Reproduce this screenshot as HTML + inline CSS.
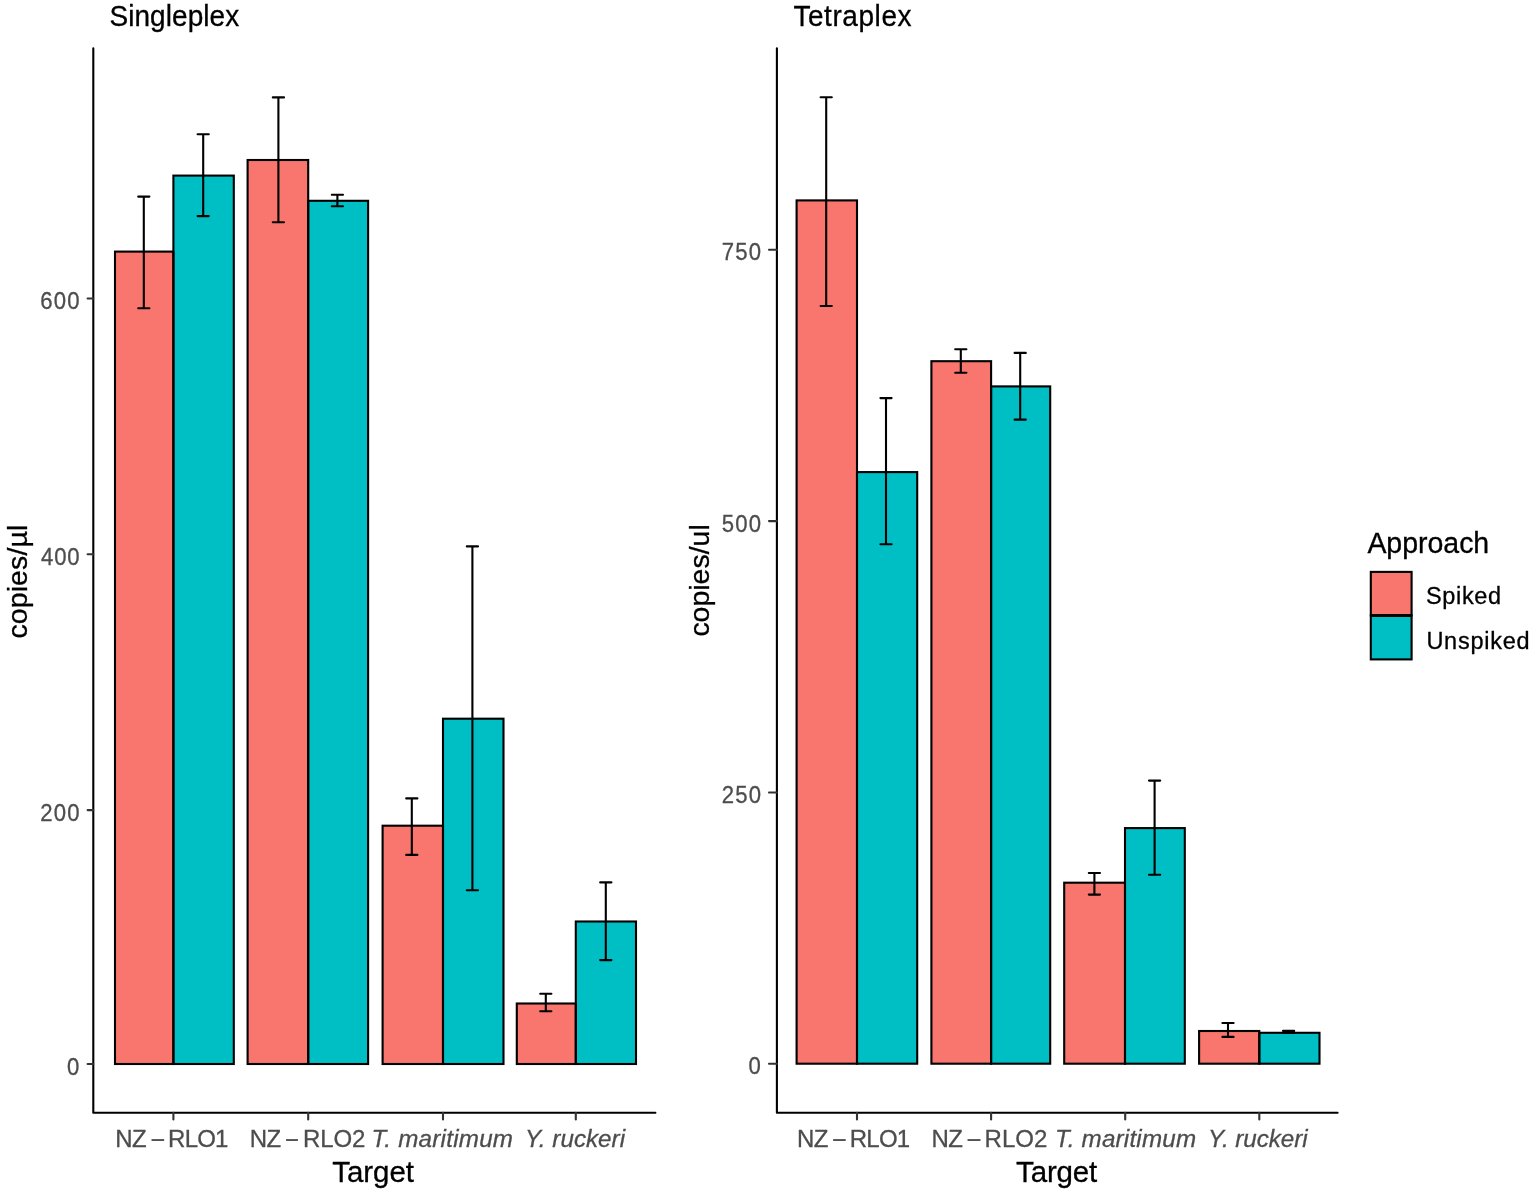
<!DOCTYPE html>
<html><head><meta charset="utf-8"><title>Singleplex vs Tetraplex</title>
<style>
html,body{margin:0;padding:0;background:#fff;}
body{width:1535px;height:1194px;overflow:hidden;}
svg{display:block;}
text{font-family:"Liberation Sans",Arial,sans-serif;stroke-width:0.3px;}
</style></head>
<body>
<svg width="1535" height="1194" viewBox="0 0 1535 1194">
<rect width="1535" height="1194" fill="#fff"/>
<rect x="115.0" y="251.6" width="58.4" height="812.4" fill="#F8766D"/>
<rect x="173.4" y="175.6" width="60.4" height="888.4" fill="#00BFC4"/>
<rect x="247.6" y="160.0" width="60.6" height="904.0" fill="#F8766D"/>
<rect x="308.2" y="200.8" width="59.9" height="863.2" fill="#00BFC4"/>
<rect x="382.6" y="825.7" width="60.4" height="238.3" fill="#F8766D"/>
<rect x="443.0" y="718.7" width="60.5" height="345.3" fill="#00BFC4"/>
<rect x="516.8" y="1003.5" width="59.0" height="60.5" fill="#F8766D"/>
<rect x="575.8" y="921.5" width="60.2" height="142.5" fill="#00BFC4"/>
<rect x="115.0" y="251.6" width="58.4" height="812.4" fill="none" stroke="#000" stroke-width="2.1"/>
<rect x="173.4" y="175.6" width="60.4" height="888.4" fill="none" stroke="#000" stroke-width="2.1"/>
<rect x="247.6" y="160.0" width="60.6" height="904.0" fill="none" stroke="#000" stroke-width="2.1"/>
<rect x="308.2" y="200.8" width="59.9" height="863.2" fill="none" stroke="#000" stroke-width="2.1"/>
<rect x="382.6" y="825.7" width="60.4" height="238.3" fill="none" stroke="#000" stroke-width="2.1"/>
<rect x="443.0" y="718.7" width="60.5" height="345.3" fill="none" stroke="#000" stroke-width="2.1"/>
<rect x="516.8" y="1003.5" width="59.0" height="60.5" fill="none" stroke="#000" stroke-width="2.1"/>
<rect x="575.8" y="921.5" width="60.2" height="142.5" fill="none" stroke="#000" stroke-width="2.1"/>
<path d="M138.2 196.6H149.4M143.8 196.6V308.3M138.2 308.3H149.4" stroke="#000" stroke-width="2.1" fill="none" stroke-linecap="round"/>
<path d="M197.6 134.2H208.8M203.2 134.2V216.1M197.6 216.1H208.8" stroke="#000" stroke-width="2.1" fill="none" stroke-linecap="round"/>
<path d="M272.8 97.4H284.0M278.4 97.4V222.2M272.8 222.2H284.0" stroke="#000" stroke-width="2.1" fill="none" stroke-linecap="round"/>
<path d="M331.8 194.8H343.0M337.4 194.8V206.3M331.8 206.3H343.0" stroke="#000" stroke-width="2.1" fill="none" stroke-linecap="round"/>
<path d="M406.2 798.4H417.4M411.8 798.4V854.9M406.2 854.9H417.4" stroke="#000" stroke-width="2.1" fill="none" stroke-linecap="round"/>
<path d="M466.8 546.4H478.0M472.4 546.4V890.3M466.8 890.3H478.0" stroke="#000" stroke-width="2.1" fill="none" stroke-linecap="round"/>
<path d="M540.2 993.7H551.4M545.8 993.7V1011.3M540.2 1011.3H551.4" stroke="#000" stroke-width="2.1" fill="none" stroke-linecap="round"/>
<path d="M600.2 882.4H611.4M605.8 882.4V960.1M600.2 960.1H611.4" stroke="#000" stroke-width="2.1" fill="none" stroke-linecap="round"/>
<path d="M93.3 48.4V1112.8H655.4" stroke="#000" stroke-width="2.1" fill="none" stroke-linecap="round" stroke-linejoin="round"/>
<path d="M87.6 1064.0H93.3" stroke="#333" stroke-width="2.1" stroke-linecap="round"/>
<path d="M87.6 810.1H93.3" stroke="#333" stroke-width="2.1" stroke-linecap="round"/>
<path d="M87.6 554.3H93.3" stroke="#333" stroke-width="2.1" stroke-linecap="round"/>
<path d="M87.6 298.5H93.3" stroke="#333" stroke-width="2.1" stroke-linecap="round"/>
<path d="M173.4 1112.8V1119.4" stroke="#333" stroke-width="2.1" stroke-linecap="round"/>
<path d="M308.2 1112.8V1119.4" stroke="#333" stroke-width="2.1" stroke-linecap="round"/>
<path d="M443.0 1112.8V1119.4" stroke="#333" stroke-width="2.1" stroke-linecap="round"/>
<path d="M575.8 1112.8V1119.4" stroke="#333" stroke-width="2.1" stroke-linecap="round"/>
<rect x="796.6" y="200.4" width="60.4" height="863.3" fill="#F8766D"/>
<rect x="857.0" y="472.1" width="60.2" height="591.6" fill="#00BFC4"/>
<rect x="931.4" y="361.2" width="59.7" height="702.5" fill="#F8766D"/>
<rect x="991.1" y="386.4" width="59.1" height="677.3" fill="#00BFC4"/>
<rect x="1064.2" y="882.7" width="60.8" height="181.0" fill="#F8766D"/>
<rect x="1125.0" y="828.1" width="59.8" height="235.6" fill="#00BFC4"/>
<rect x="1199.1" y="1031.0" width="60.2" height="32.7" fill="#F8766D"/>
<rect x="1259.3" y="1032.8" width="60.2" height="30.9" fill="#00BFC4"/>
<rect x="796.6" y="200.4" width="60.4" height="863.3" fill="none" stroke="#000" stroke-width="2.1"/>
<rect x="857.0" y="472.1" width="60.2" height="591.6" fill="none" stroke="#000" stroke-width="2.1"/>
<rect x="931.4" y="361.2" width="59.7" height="702.5" fill="none" stroke="#000" stroke-width="2.1"/>
<rect x="991.1" y="386.4" width="59.1" height="677.3" fill="none" stroke="#000" stroke-width="2.1"/>
<rect x="1064.2" y="882.7" width="60.8" height="181.0" fill="none" stroke="#000" stroke-width="2.1"/>
<rect x="1125.0" y="828.1" width="59.8" height="235.6" fill="none" stroke="#000" stroke-width="2.1"/>
<rect x="1199.1" y="1031.0" width="60.2" height="32.7" fill="none" stroke="#000" stroke-width="2.1"/>
<rect x="1259.3" y="1032.8" width="60.2" height="30.9" fill="none" stroke="#000" stroke-width="2.1"/>
<path d="M820.6 97.3H831.8M826.2 97.3V306.0M820.6 306.0H831.8" stroke="#000" stroke-width="2.1" fill="none" stroke-linecap="round"/>
<path d="M880.4 398.1H891.6M886.0 398.1V544.2M880.4 544.2H891.6" stroke="#000" stroke-width="2.1" fill="none" stroke-linecap="round"/>
<path d="M955.2 349.2H966.4M960.8 349.2V372.8M955.2 372.8H966.4" stroke="#000" stroke-width="2.1" fill="none" stroke-linecap="round"/>
<path d="M1014.6 352.9H1025.8M1020.2 352.9V419.6M1014.6 419.6H1025.8" stroke="#000" stroke-width="2.1" fill="none" stroke-linecap="round"/>
<path d="M1088.8 873.0H1100.0M1094.4 873.0V894.6M1088.8 894.6H1100.0" stroke="#000" stroke-width="2.1" fill="none" stroke-linecap="round"/>
<path d="M1149.0 780.6H1160.2M1154.6 780.6V874.8M1149.0 874.8H1160.2" stroke="#000" stroke-width="2.1" fill="none" stroke-linecap="round"/>
<path d="M1222.4 1023.0H1233.6M1228.0 1023.0V1036.9M1222.4 1036.9H1233.6" stroke="#000" stroke-width="2.1" fill="none" stroke-linecap="round"/>
<path d="M1283.0 1030.9H1294.2M1288.6 1030.9V1032.9M1283.0 1032.9H1294.2" stroke="#000" stroke-width="2.1" fill="none" stroke-linecap="round"/>
<path d="M776.9 48.4V1112.8H1337.6" stroke="#000" stroke-width="2.1" fill="none" stroke-linecap="round" stroke-linejoin="round"/>
<path d="M769.0 1063.7H776.9" stroke="#333" stroke-width="2.1" stroke-linecap="round"/>
<path d="M769.0 792.5H776.9" stroke="#333" stroke-width="2.1" stroke-linecap="round"/>
<path d="M769.0 521.1H776.9" stroke="#333" stroke-width="2.1" stroke-linecap="round"/>
<path d="M769.0 249.7H776.9" stroke="#333" stroke-width="2.1" stroke-linecap="round"/>
<path d="M857.0 1112.8V1119.4" stroke="#333" stroke-width="2.1" stroke-linecap="round"/>
<path d="M991.1 1112.8V1119.4" stroke="#333" stroke-width="2.1" stroke-linecap="round"/>
<path d="M1125.2 1112.8V1119.4" stroke="#333" stroke-width="2.1" stroke-linecap="round"/>
<path d="M1259.3 1112.8V1119.4" stroke="#333" stroke-width="2.1" stroke-linecap="round"/>
<rect x="1370.8" y="571.9" width="40.8" height="43.6" fill="#F8766D" stroke="#000" stroke-width="2.1"/>
<rect x="1370.8" y="615.5" width="40.8" height="43.9" fill="#00BFC4" stroke="#000" stroke-width="2.1"/>
<path d="M1370.8 615.5H1411.6" stroke="#000" stroke-width="3"/>
<text transform="translate(109.40,26.20) scale(1.0,1.035)" font-size="28" fill="#000" stroke="#000" textLength="129.80" lengthAdjust="spacing">Singleplex</text>
<text transform="translate(793.40,26.00) scale(1.0,1.035)" font-size="28" fill="#000" stroke="#000" textLength="118.12" lengthAdjust="spacing">Tetraplex</text>
<text transform="translate(332.30,1182.20) scale(1.0,1.03)" font-size="29.5" fill="#000" stroke="#000" textLength="81.70" lengthAdjust="spacing">Target</text>
<text transform="translate(1016.10,1182.20) scale(1.0,1.03)" font-size="29.5" fill="#000" stroke="#000" textLength="81.10" lengthAdjust="spacing">Target</text>
<text transform="translate(1367.40,553.40) scale(1.0,1.05)" font-size="28.5" fill="#000" stroke="#000" textLength="121.82" lengthAdjust="spacing">Approach</text>
<text x="1426.00" y="604.20" font-size="23.5" fill="#000" stroke="#000" textLength="75.06" lengthAdjust="spacing">Spiked</text>
<text x="1426.40" y="649.00" font-size="23.5" fill="#000" stroke="#000" textLength="103.18" lengthAdjust="spacing">Unspiked</text>
<text transform="translate(27.20,638.60) rotate(-90)" font-size="28.5" fill="#000" stroke="#000" textLength="113.86" lengthAdjust="spacing">copies/µl</text>
<text transform="translate(708.80,636.60) rotate(-90)" font-size="28.5" fill="#000" stroke="#000" textLength="112.38" lengthAdjust="spacing">copies/ul</text>
<text x="371.50" y="1146.70" font-size="24.2" fill="#4D4D4D" stroke="#4D4D4D" font-style="italic" textLength="141.47" lengthAdjust="spacing">T. maritimum</text>
<text x="524.90" y="1146.70" font-size="24.2" fill="#4D4D4D" stroke="#4D4D4D" font-style="italic" textLength="100.14" lengthAdjust="spacing">Y. ruckeri</text>
<text x="1054.90" y="1146.70" font-size="24.2" fill="#4D4D4D" stroke="#4D4D4D" font-style="italic" textLength="141.17" lengthAdjust="spacing">T. maritimum</text>
<text x="1208.10" y="1146.70" font-size="24.2" fill="#4D4D4D" stroke="#4D4D4D" font-style="italic" textLength="99.44" lengthAdjust="spacing">Y. ruckeri</text>
<text x="115.20" y="1146.70" font-size="24" fill="#4D4D4D" stroke="#4D4D4D" textLength="31.50" lengthAdjust="spacing">NZ</text>
<text x="150.40" y="1148.20" font-size="24" fill="#4D4D4D" stroke="#4D4D4D" textLength="14.62" lengthAdjust="spacingAndGlyphs">−</text>
<text x="168.10" y="1146.70" font-size="24" fill="#4D4D4D" stroke="#4D4D4D" textLength="60.30" lengthAdjust="spacing">RLO1</text>
<text x="249.70" y="1146.70" font-size="24" fill="#4D4D4D" stroke="#4D4D4D" textLength="31.50" lengthAdjust="spacing">NZ</text>
<text x="284.90" y="1148.20" font-size="24" fill="#4D4D4D" stroke="#4D4D4D" textLength="13.82" lengthAdjust="spacingAndGlyphs">−</text>
<text x="302.90" y="1146.70" font-size="24" fill="#4D4D4D" stroke="#4D4D4D" textLength="62.50" lengthAdjust="spacing">RLO2</text>
<text x="796.90" y="1146.70" font-size="24" fill="#4D4D4D" stroke="#4D4D4D" textLength="31.50" lengthAdjust="spacing">NZ</text>
<text x="832.10" y="1148.20" font-size="24" fill="#4D4D4D" stroke="#4D4D4D" textLength="14.62" lengthAdjust="spacingAndGlyphs">−</text>
<text x="849.80" y="1146.70" font-size="24" fill="#4D4D4D" stroke="#4D4D4D" textLength="60.30" lengthAdjust="spacing">RLO1</text>
<text x="931.40" y="1146.70" font-size="24" fill="#4D4D4D" stroke="#4D4D4D" textLength="31.50" lengthAdjust="spacing">NZ</text>
<text x="966.40" y="1148.20" font-size="24" fill="#4D4D4D" stroke="#4D4D4D" textLength="14.84" lengthAdjust="spacingAndGlyphs">−</text>
<text x="984.60" y="1146.70" font-size="24" fill="#4D4D4D" stroke="#4D4D4D" textLength="62.80" lengthAdjust="spacing">RLO2</text>
<text transform="translate(67.01,1074.60) scale(0.93,1.0)" font-size="23.8" fill="#4D4D4D" stroke="#4D4D4D">0</text>
<text transform="translate(40.17,820.70) scale(0.93,1.0)" font-size="23.8" fill="#4D4D4D" stroke="#4D4D4D" textLength="42.30" lengthAdjust="spacing">200</text>
<text transform="translate(41.10,564.90) scale(0.93,1.0)" font-size="23.8" fill="#4D4D4D" stroke="#4D4D4D" textLength="41.30" lengthAdjust="spacing">400</text>
<text transform="translate(40.17,309.10) scale(0.93,1.0)" font-size="23.8" fill="#4D4D4D" stroke="#4D4D4D" textLength="42.30" lengthAdjust="spacing">600</text>
<text transform="translate(748.61,1074.30) scale(0.93,1.0)" font-size="23.8" fill="#4D4D4D" stroke="#4D4D4D">0</text>
<text transform="translate(721.77,803.10) scale(0.93,1.0)" font-size="23.8" fill="#4D4D4D" stroke="#4D4D4D" textLength="42.30" lengthAdjust="spacing">250</text>
<text transform="translate(721.77,531.70) scale(0.93,1.0)" font-size="23.8" fill="#4D4D4D" stroke="#4D4D4D" textLength="42.30" lengthAdjust="spacing">500</text>
<text transform="translate(721.77,260.30) scale(0.93,1.0)" font-size="23.8" fill="#4D4D4D" stroke="#4D4D4D" textLength="42.30" lengthAdjust="spacing">750</text>
</svg>
</body></html>
